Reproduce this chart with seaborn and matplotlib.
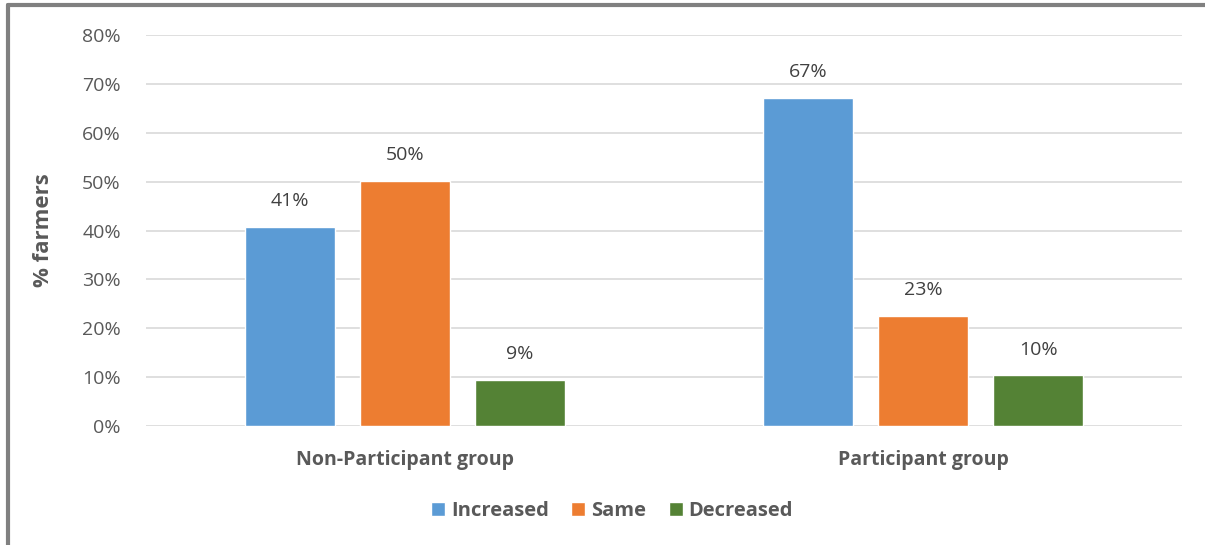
import matplotlib
matplotlib.use("Agg")
import matplotlib.pyplot as plt
from matplotlib.lines import Line2D
from matplotlib.ticker import PercentFormatter
import pandas as pd
import seaborn as sns

# --- data ---
groups = ["Non-Participant group", "Participant group"]
responses = ["Increased", "Same", "Decreased"]
increased = [0.407, 0.672]
same = [0.501, 0.226]
decreased = [0.094, 0.104]
labels = {"Increased": ["41%", "67%"], "Same": ["50%", "23%"], "Decreased": ["9%", "10%"]}
colors = ["#5B9BD5", "#ED7D31", "#548235"]

df = pd.DataFrame({
    "group": groups * 3,
    "response": [r for r in responses for _ in groups],
    "share": increased + same + decreased,
})

sns.set_theme(style="white")
plt.rcParams["font.family"] = ["Open Sans", "DejaVu Sans"]
TXT = "#595959"

fig = plt.figure(figsize=(12.05, 5.45), dpi=100)
ax = fig.add_axes([0.121, 0.2183, 0.860, 0.7175])

sns.barplot(data=df, x="group", y="share", hue="response", order=groups,
            hue_order=responses, palette=colors, width=0.666, gap=0.217,
            saturation=1, ax=ax, legend=True)

for cont, resp in zip(ax.containers, responses):
    ax.bar_label(cont, labels=labels[resp], padding=12, fontsize=14, color="#404040")

ax.set_ylim(0, 0.8)
ax.set_xlim(-0.5, 1.5)
ax.set_yticks([i / 10 for i in range(9)])
ax.yaxis.set_major_formatter(PercentFormatter(1.0, decimals=0))
ax.set_xticks([0, 1], groups, fontweight="bold", fontsize=14, color=TXT)
ax.grid(axis="y", color="#D9D9D9", lw=1.2)
ax.set_axisbelow(True)
for s in ax.spines.values():
    s.set_visible(False)
ax.tick_params(axis="y", length=0, labelsize=14, labelcolor=TXT, pad=18)
ax.tick_params(axis="x", length=0, pad=17)
ax.set_xlabel("")
ax.set_ylabel("% farmers", fontsize=16, fontweight="bold", color=TXT, labelpad=20)

handles, lbls = ax.get_legend_handles_labels()
ax.get_legend().remove()
fig.legend(handles, lbls, loc="center", bbox_to_anchor=(0.508, 0.063), ncol=3,
           frameon=False, handlelength=0.7, handleheight=0.7,
           handletextpad=0.3, columnspacing=1.1,
           prop={"family": "Open Sans", "weight": "bold", "size": 14.5})
for t in fig.legends[0].get_texts():
    t.set_color(TXT)

# outer frame (top and left edges visible in the reference)
fig.add_artist(Line2D([0.0066, 1.0], [0.9908, 0.9908], color="#808080", lw=3,
                      transform=fig.transFigure))
fig.add_artist(Line2D([0.0066, 0.0066], [0.0, 0.9908], color="#808080", lw=3,
                      transform=fig.transFigure))

fig.savefig("out.png", dpi=100)
